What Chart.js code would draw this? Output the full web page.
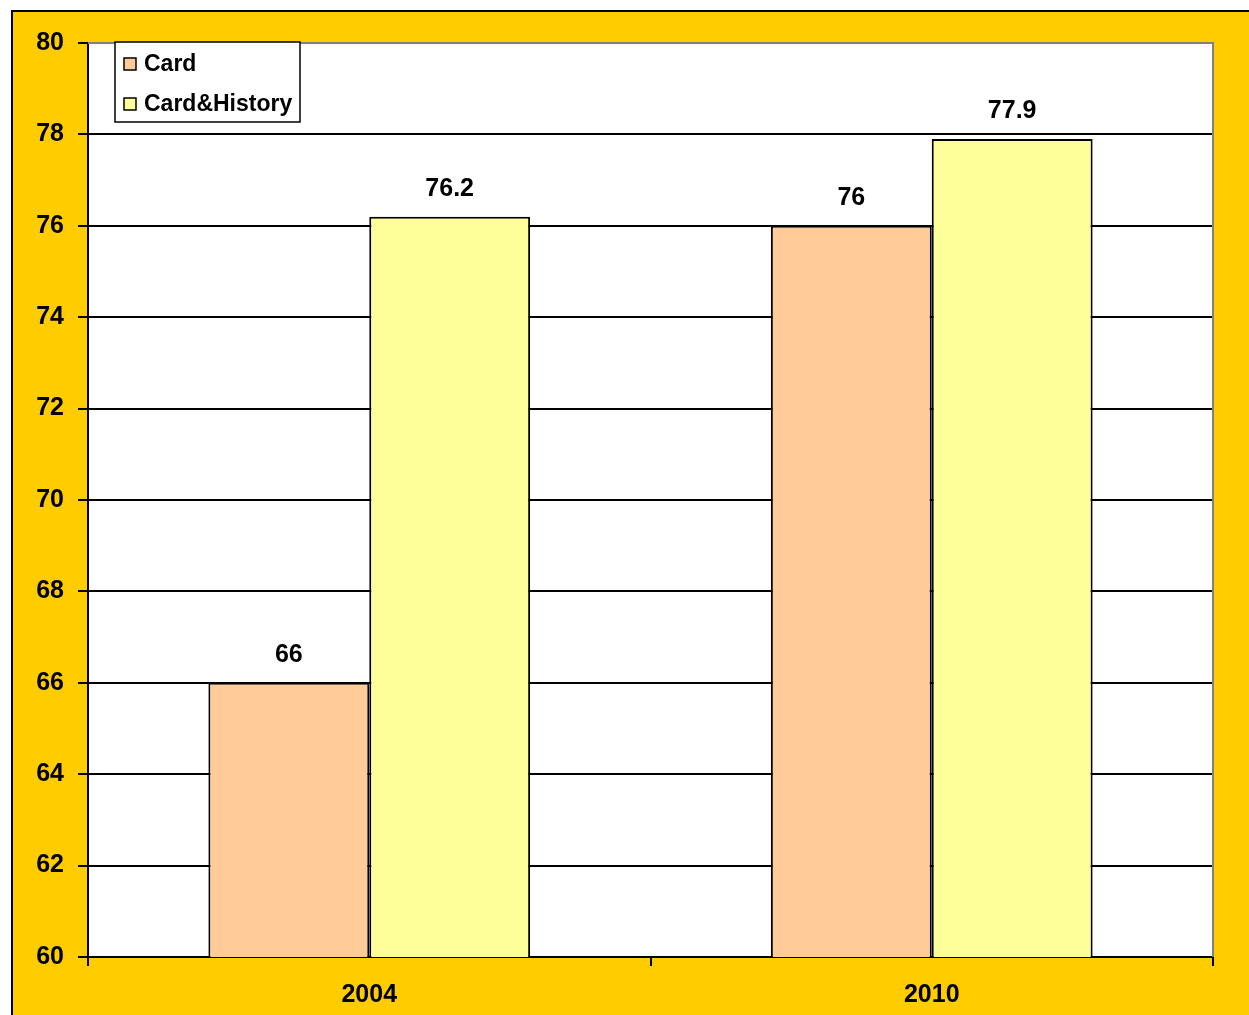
<!DOCTYPE html>
<html lang="en">
<head>
<meta charset="UTF-8">
<title>Card vs Card&History</title>
<script src="https://cdn.jsdelivr.net/npm/chart.js@4.4.2/dist/chart.umd.min.js"></script>
<style>
    html, body { margin: 0; padding: 0; background: #ffffff; }
    #wrap { width: 1249px; height: 1015px; position: relative; }
</style>
</head>
<body>
<div id="wrap"><canvas id="chart"></canvas></div>
<script>
    const years = ['2004', '2010'];
    const cardValues = [66, 76];
    const cardHistoryValues = [76.2, 77.9];
    const seriesNames = ['Card', 'Card&History'];
    const yTicks = [60, 62, 64, 66, 68, 70, 72, 74, 76, 78, 80];

    const FONT = '"Liberation Sans", Arial, sans-serif';

    // yellow frame and white plot area
    const framePlugin = {
        id: 'frame',
        beforeDraw(chart) {
            const ctx = chart.ctx, a = chart.chartArea;
            ctx.save();
            ctx.fillStyle = '#ffffff';
            ctx.fillRect(0, 0, chart.width, chart.height);
            ctx.fillStyle = '#ffcc00';
            ctx.fillRect(11, 10, chart.width, chart.height);
            ctx.strokeStyle = '#000000';
            ctx.lineWidth = 2;
            ctx.beginPath();
            ctx.moveTo(12, chart.height + 5);
            ctx.lineTo(12, 11);
            ctx.lineTo(chart.width + 5, 11);
            ctx.stroke();
            ctx.fillStyle = '#ffffff';
            ctx.fillRect(a.left, a.top, a.right - a.left, a.bottom - a.top);
            ctx.restore();
        },
        afterDatasetsDraw(chart) {
            const ctx = chart.ctx, a = chart.chartArea;
            ctx.save();
            ctx.strokeStyle = '#808080';
            ctx.lineWidth = 2;
            ctx.beginPath();
            ctx.moveTo(a.left, a.top);
            ctx.lineTo(a.right, a.top);
            ctx.lineTo(a.right, a.bottom);
            ctx.stroke();
            // value labels
            ctx.fillStyle = '#000000';
            ctx.font = 'bold 25px ' + FONT;
            ctx.textAlign = 'center';
            ctx.textBaseline = 'middle';
            chart.data.datasets.forEach((ds, i) => {
                chart.getDatasetMeta(i).data.forEach((bar, j) => {
                    ctx.fillText(String(ds.data[j]), bar.x, bar.y - 28);
                });
            });
            // legend box
            const lx = 115, ly = 42, lw = 185, lh = 80;
            ctx.fillStyle = '#ffffff';
            ctx.fillRect(lx, ly, lw, lh);
            ctx.strokeStyle = '#000000';
            ctx.lineWidth = 1.5;
            ctx.strokeRect(lx, ly, lw, lh);
            ctx.textAlign = 'left';
            ctx.font = 'bold 23px ' + FONT;
            chart.data.datasets.forEach((ds, i) => {
                const cy = 64 + i * 40;
                ctx.fillStyle = ds.backgroundColor;
                ctx.fillRect(124, cy - 6, 12, 12);
                ctx.strokeStyle = '#000000';
                ctx.lineWidth = 1.5;
                ctx.strokeRect(124, cy - 6, 12, 12);
                ctx.fillStyle = '#000000';
                ctx.fillText(ds.label, 144, cy + 1);
            });
            ctx.restore();
        }
    };

    const ctx = document.getElementById('chart').getContext('2d');
    new Chart(ctx, {
        type: 'bar',
        data: {
            labels: years,
            datasets: [
                { label: seriesNames[0], data: cardValues, backgroundColor: '#ffcc99', borderColor: '#000000', borderWidth: 2 },
                { label: seriesNames[1], data: cardHistoryValues, backgroundColor: '#ffff99', borderColor: '#000000', borderWidth: 2 }
            ]
        },
        options: {
            responsive: true,
            maintainAspectRatio: false,
            animation: false,
            layout: { padding: { top: 43, right: 36, left: 0, bottom: 0 } },
            datasets: { bar: { categoryPercentage: 0.572, barPercentage: 1 } },
            plugins: { legend: { display: false }, tooltip: { enabled: false } },
            scales: {
                x: {
                    afterFit(s) { s.height = 58; },
                    grid: { drawOnChartArea: false, drawTicks: true, tickLength: 9, color: '#000000', lineWidth: 2 },
                    border: { color: '#000000', width: 2 },
                    ticks: { color: '#000000', padding: 14, font: { family: FONT, size: 25, weight: 'bold' } }
                },
                y: {
                    min: 60, max: 80,
                    afterFit(s) { s.width = 88; },
                    afterBuildTicks(s) { s.ticks = yTicks.map(v => ({ value: v })); },
                    grid: { color: '#000000', lineWidth: 2, tickLength: 10 },
                    border: { color: '#000000', width: 2 },
                    ticks: { color: '#000000', padding: 14, font: { family: FONT, size: 25, weight: 'bold' } }
                }
            }
        },
        plugins: [framePlugin]
    });
</script>
</body>
</html>
